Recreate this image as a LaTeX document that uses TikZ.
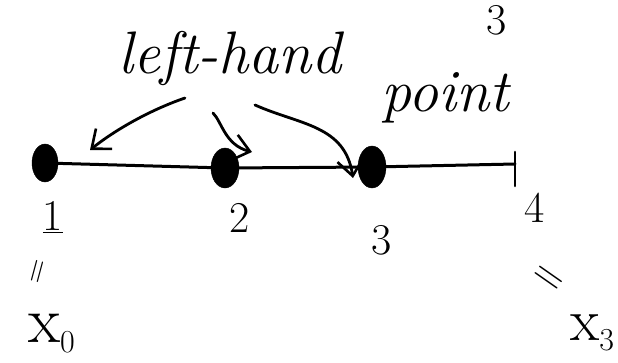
\documentclass[tikz,border=0pt]{standalone}
\usetikzlibrary{arrows.meta,shapes.geometric}
\begin{document}
\begin{tikzpicture}[x=1pt,y=-1pt,line cap=round,line join=round,
  hand/.style={font=\fontsize{60}{60}\selectfont\itshape, inner sep=0},
  num/.style={font=\fontsize{44}{44}\selectfont, inner sep=0},
  var/.style={font=\fontsize{66}{66}\selectfont, inner sep=0, anchor=base west, text height=30pt},
  dotnode/.style={ellipse, fill=black, draw=black, minimum width=26pt, minimum height=38pt, inner sep=0},
  arr/.style={-{Straight Barb[length=16pt,width=26pt,line width=2.6pt]}, line width=2.8pt},
  axis/.style={line width=3pt}]
\useasboundingbox (0,0) rectangle (618,362);
% text
\node[hand] (lh) at (230,58) {left-hand};
\node[hand] (pt) at (445,98) {point};
\node[num] (top3) at (497,20) {3};
% points on the line
\node[dotnode] (d1) at (45,163) {};
\node[dotnode, minimum width=28pt, minimum height=40pt] (d2) at (225,168) {};
\node[dotnode, minimum width=28pt, minimum height=42pt] (d3) at (372,167) {};
\coordinate (t4) at (515,164);
\coordinate (t4a) at (515,152);
\coordinate (t4b) at (515,186);
\draw[axis] (d1.center) -- (d2.center) -- (d3.center) -- (t4);
\draw[line width=2.6pt] (t4a) -- (t4b);
% arrows
\coordinate (s1) at (185,98);
\coordinate (e1) at (90,150);
\coordinate (s2) at (213,113);
\coordinate (e2) at (252,152);
\coordinate (s3) at (255,105);
\coordinate (e3) at (353,178);
\draw[arr] (s1) .. controls (150,110) and (115,130) .. (e1);
\draw[arr] (s2) .. controls (222,122) and (225,145) .. (e2);
\draw[arr] (s3) .. controls (300,125) and (345,125) .. (e3);
% labels
\node[num] (l1) at (53,217) {\underline{1}};
\node[num] (l2) at (240,218) {2};
\node[num] (l3) at (382,240) {3};
\node[num] (l4) at (535,208) {4};
\node[font=\fontsize{34}{34}\selectfont, inner sep=0, rotate=75] (eq1) at (40,272) {=};
\node[var] (x0) at (28,342) {x\raisebox{-10pt}{\fontsize{32}{32}\selectfont 0}};
\node[font=\fontsize{44}{44}\selectfont, inner sep=0, rotate=-35] (eq2) at (547,280) {=};
\node[var, font=\fontsize{60}{60}\selectfont] (x3) at (570,340) {x\raisebox{-10pt}{\fontsize{32}{32}\selectfont 3}};
\end{tikzpicture}
\end{document}
